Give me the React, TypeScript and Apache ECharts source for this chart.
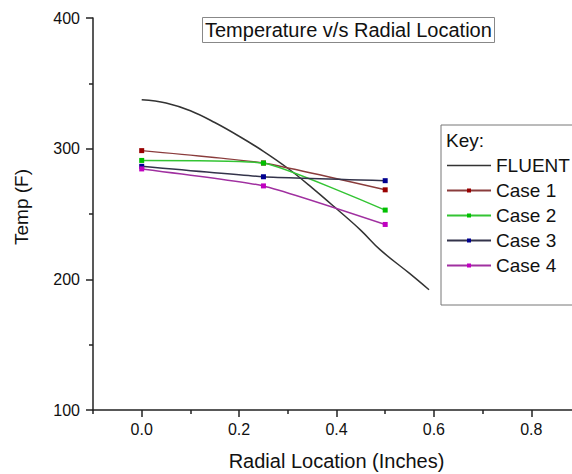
import React, { useEffect, useRef } from "react";
import * as echarts from "echarts";

const TITLE = "Temperature v/s Radial Location";
const X_NAME = "Radial Location (Inches)";
const Y_NAME = "Temp (F)";
const LEGEND_HEADER = "Key:";

const seriesNames = ["FLUENT", "Case 1", "Case 2", "Case 3", "Case 4"];

const radialLocation = [0, 0.25, 0.5];
const case1 = [298.5, 289, 268.5];
const case2 = [291, 289, 253];
const case3 = [286.5, 278.5, 275.5];
const case4 = [284.5, 271.5, 242];

const fluentX = [0, 0.05, 0.1, 0.15, 0.2, 0.25, 0.3, 0.35, 0.4, 0.45, 0.49, 0.55, 0.59];
const fluentY = [337.5, 335, 329, 320, 309.5, 298, 285, 270, 254, 237.5, 222.5, 204.5, 192];

const xMajorTicks = [0, 0.2, 0.4, 0.6, 0.8];
const xMinorTicks = [-0.1, 0.1, 0.3, 0.5, 0.7, 0.9];

const FONT = "'Liberation Sans', Arial, sans-serif";

const lineColors = ["#333333", "#8a3c3c", "#33c433", "#33334a", "#a030a0"];
const markerColors = ["#333333", "#990000", "#00c000", "#000090", "#c000c0"];

export default function App() {
  const ref = useRef<HTMLDivElement>(null);

  useEffect(() => {
    if (!ref.current) return;
    document.body.style.margin = "0";
    const chart = echarts.init(ref.current, undefined, { renderer: "svg" });

    const zip = (xs: number[], ys: number[]) => xs.map((x, i) => [x, ys[i]]);
    const caseData = [case1, case2, case3, case4];

    const axisLine = { show: true, onZero: false, lineStyle: { color: "#222", width: 1.5 } };
    const tickStyle = { color: "#222", width: 1.5 };

    const option: any = {
      animation: false,
      backgroundColor: "#fff",
      textStyle: { fontFamily: FONT },
      title: {
        text: TITLE,
        left: 202,
        top: 17,
        borderColor: "#888",
        borderWidth: 1,
        padding: [2, 3, 2, 3],
        textStyle: { fontSize: 20, fontWeight: "normal", color: "#111", lineHeight: 22, fontFamily: FONT },
      },
      grid: { left: 93, top: 18, bottom: 64, right: -8, containLabel: false, outerBoundsMode: "none" },
      legend: {
        orient: "vertical",
        left: 441,
        top: 125,
        itemWidth: 44,
        itemHeight: 5,
        itemGap: 6,
        padding: [31, 30, 30, 5],
        borderColor: "#777",
        borderWidth: 1,
        selectedMode: false,
        textStyle: { fontSize: 19, lineHeight: 19, color: "#111", fontFamily: FONT },
        data: [
          { name: seriesNames[0], icon: "path://M0,0h44v1.5h-44z" },
          seriesNames[1],
          seriesNames[2],
          seriesNames[3],
          seriesNames[4],
        ],
      },
      graphic: [
        {
          type: "text",
          left: 446,
          top: 131,
          style: { text: LEGEND_HEADER, fontSize: 19, fill: "#111", fontFamily: FONT },
        },
        {
          type: "text",
          x: 21,
          y: 207,
          rotation: Math.PI / 2,
          style: {
            text: Y_NAME,
            fontSize: 19,
            fill: "#111",
            fontFamily: FONT,
            align: "center",
            verticalAlign: "middle",
          },
        },
      ],
      xAxis: [
        {
          type: "value",
          min: -0.1,
          max: 0.9,
          position: "bottom",
          name: X_NAME,
          nameLocation: "middle",
          nameGap: 41,
          nameTextStyle: { fontSize: 20, color: "#111", fontFamily: FONT },
          axisLine,
          splitLine: { show: false },
          axisTick: { show: true, customValues: xMajorTicks, length: 7, lineStyle: tickStyle },
          axisLabel: {
            customValues: xMajorTicks,
            fontSize: 16,
            color: "#111",
            margin: 11,
            fontFamily: FONT,
            formatter: (v: number) => v.toFixed(1),
          },
        },
        {
          type: "value",
          min: -0.1,
          max: 0.9,
          position: "bottom",
          axisLine: { show: false, onZero: false },
          splitLine: { show: false },
          axisTick: { show: true, customValues: xMinorTicks, length: 4, lineStyle: tickStyle },
          axisLabel: { show: false },
        },
      ],
      yAxis: {
        type: "value",
        min: 100,
        max: 400,
        interval: 100,
        axisLine,
        splitLine: { show: false },
        axisTick: { show: true, length: 7, lineStyle: tickStyle },
        minorTick: { show: true, splitNumber: 2, length: 4, lineStyle: tickStyle },
        axisLabel: { fontSize: 16, color: "#111", margin: 13, fontFamily: FONT },
      },
      series: [
        {
          name: seriesNames[0],
          type: "line",
          xAxisIndex: 0,
          data: zip(fluentX, fluentY),
          symbol: "none",
          smooth: 0.4,
          lineStyle: { color: lineColors[0], width: 1.5 },
          itemStyle: { color: lineColors[0] },
        },
        ...caseData.map((vals, i) => ({
          name: seriesNames[i + 1],
          type: "line",
          xAxisIndex: 0,
          data: zip(radialLocation, vals),
          symbol: "rect",
          symbolSize: 5,
          smooth: 0.15,
          lineStyle: { color: lineColors[i + 1], width: 1.5 },
          itemStyle: { color: markerColors[i + 1] },
        })),
      ],
    };

    chart.setOption(option);
    return () => chart.dispose();
  }, []);

  return <div ref={ref} style={{ width: 572, height: 474 }} />;
}
